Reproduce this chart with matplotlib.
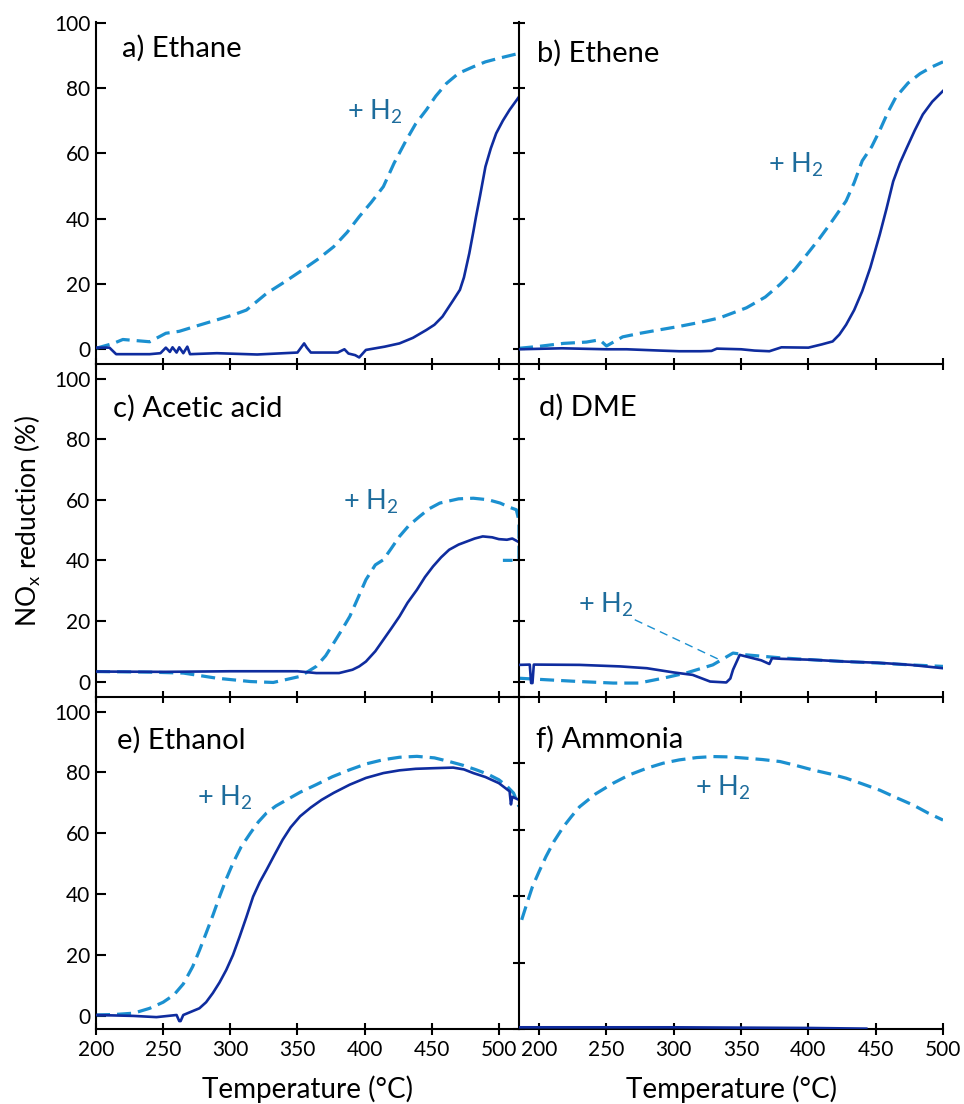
import numpy as np
import matplotlib
matplotlib.use("Agg")
import matplotlib.pyplot as plt

plt.rcParams['font.family'] = ['Lato', 'DejaVu Sans']
plt.rcParams['mathtext.default'] = 'regular'

SOLID = "#0f2c9e"
DASH = "#1b90d0"
H2COL = "#1d6c9c"

# a) Ethane
a_T_h2 = [200, 213, 220, 240, 252, 262, 277, 290, 302, 312, 327, 340, 352, 365, 377, 387, 396, 405, 414, 422, 431, 438, 446,
          453, 461, 470, 481, 490, 500, 515]
a_y_h2 = [0.3, 1.8, 3.0, 2.3, 4.9, 5.5, 7.4, 9.0, 10.5, 12.0, 17.1, 20.5, 23.8, 27.5, 31.4, 35.8, 40.6, 45.0, 49.8, 57.0, 64.0,
          69.0, 73.3, 77.5, 81.4, 84.5, 86.5, 88.0, 89.1, 90.6]
a_T = [200, 210, 215, 240, 248, 252, 255, 257, 260, 262, 265, 268, 270, 290, 320, 350, 355, 357, 360, 380, 385, 388, 393, 396, 401,
       415, 426, 436, 446, 452, 458, 462, 466, 471, 474, 478, 481, 483, 486, 490, 494, 498, 503, 508, 515]
a_y = [0.5, 0.5, -1.5, -1.5, -1.2, 0.5, -0.8, 0.6, -1.0, 0.6, -1.2, 0.8, -1.5, -1.2, -1.6, -1.0, 1.8, 0.5, -1.0, -1.0, 0.0, -1.3, -1.8, -2.5, -0.2,
       0.8, 1.8, 3.5, 5.9, 7.5, 10.0, 12.5, 15.0, 18.2, 22.0, 29.4, 36.0, 40.6, 47.0, 55.9, 61.5, 66.1, 70.0, 73.3, 77.3]

# b) Ethene
b_T_h2 = [185, 200, 218, 235, 245, 250, 262, 275, 290, 304, 320, 334, 354, 368, 379, 390, 399, 408, 416, 428, 434, 440, 447,
          453, 459, 465, 474, 483, 492, 500]
b_y_h2 = [0.3, 0.9, 1.8, 2.2, 2.9, 1.0, 3.8, 4.9, 6.0, 7.0, 8.3, 9.6, 12.7, 16.0, 19.9, 24.5, 29.1, 33.8, 38.3, 45.4, 51.0, 57.7, 62.0,
          67.0, 72.5, 77.2, 81.5, 84.4, 86.5, 88.0]
b_T = [185, 217, 250, 265, 290, 304, 320, 328, 332, 350, 360, 371, 380, 400, 410, 418, 423, 428, 434, 440, 446, 453, 458, 463,
       468, 473, 479, 485, 492, 500]
b_y = [0.0, 0.3, 0.0, 0.0, -0.4, -0.6, -0.6, -0.5, 0.2, 0.0, -0.4, -0.6, 0.6, 0.5, 1.5, 2.4, 4.5, 7.5, 12.0, 17.8, 25.0, 35.1, 43.0, 51.4,
       57.0, 61.6, 67.0, 71.9, 75.8, 79.1]

# c) Acetic acid
c_T_h2 = [200, 240, 265, 290, 315, 332, 352, 364, 371, 377, 383, 389, 395, 401, 408, 414, 420, 426, 433, 441, 448, 456, 470, 481,
          492, 501, 508, 513, 515, 515, 515, 503]
c_y_h2 = [3.3, 3.1, 2.8, 1.1, 0.0, -0.3, 1.7, 5.0, 8.5, 12.7, 17.0, 21.5, 27.5, 33.6, 38.5, 40.2, 44.0, 47.9, 51.5, 54.5, 57.0, 58.9,
          60.3, 60.5, 60.0, 58.9, 57.5, 56.7, 53.0, 46.0, 40.0, 40.0]
c_T = [200, 250, 300, 350, 364, 381, 391, 396, 401, 408, 414, 420, 426, 432, 439, 445, 451, 457, 463, 470, 476, 482, 488, 495, 500,
       506, 510, 515]
c_y = [3.3, 3.2, 3.4, 3.4, 2.8, 2.8, 3.9, 5.0, 6.6, 10.0, 13.8, 17.6, 21.5, 26.0, 30.3, 34.5, 38.0, 41.0, 43.5, 45.2, 46.2, 47.2,
       47.9, 47.6, 47.0, 46.8, 47.2, 46.0]

# d) DME
d_T_h2 = [185, 205, 230, 255, 274, 292, 309, 329, 344, 354, 380, 402, 427, 452, 476, 500]
d_y_h2 = [1.1, 0.6, 0.0, -0.5, -0.5, 1.1, 2.8, 5.5, 9.4, 8.8, 7.8, 7.2, 6.6, 6.1, 5.5, 5.0]
d_T = [185, 193, 194, 195, 196, 230, 260, 280, 300, 314, 327, 339, 342, 344, 349, 365, 371, 373, 380, 402, 427, 452, 476, 500]
d_y = [5.5, 5.6, -0.5, -0.5, 5.6, 5.5, 5.0, 4.4, 3.0, 2.2, 0.0, -0.3, 1.0, 3.9, 8.8, 7.0, 5.8, 7.7, 7.5, 7.2, 6.6, 6.2, 5.5, 4.4]
d_lead_T = [271, 334]
d_lead_y = [20.4, 7.2]

# e) Ethanol
e_T_h2 = [200, 215, 228, 240, 250, 258, 265, 272, 277, 282, 287, 292, 297, 302, 308, 315, 321, 327, 334, 342, 352, 364, 376, 389,
          401, 414, 426, 439, 452, 463, 473, 483, 492, 500, 506, 511, 515]
e_y_h2 = [0.3, 0.5, 0.9, 2.5, 4.5, 6.9, 10.5, 16.2, 21.5, 27.2, 33.0, 39.2, 45.0, 50.2, 55.5, 60.1, 63.8, 66.7, 69.0, 71.0, 73.5,
          76.0, 78.6, 80.9, 82.8, 84.2, 85.0, 85.3, 84.8, 83.6, 82.4, 80.9, 79.4, 77.6, 75.5, 73.2, 68.8]
e_T = [200, 228, 245, 260, 262, 263, 265, 277, 282, 287, 292, 297, 302, 307, 312, 317, 322, 327, 333, 339, 345, 352, 360, 368, 377,
       389, 401, 414, 426, 438, 451, 466, 474, 481, 490, 500, 508, 509, 510, 515]
e_y = [0.3, 0.0, -0.4, 0.3, -1.7, -1.7, 0.3, 2.5, 4.5, 7.5, 11.0, 15.1, 20.0, 26.1, 32.5, 39.2, 44.0, 48.0, 53.0, 57.9, 62.0, 65.6,
       68.5, 71.0, 73.3, 76.0, 78.2, 79.8, 80.7, 81.2, 81.4, 81.6, 81.0, 79.8, 78.5, 76.5, 73.8, 69.5, 72.0, 71.0]

# f) Ammonia
f_T_h2 = [187, 191, 195, 200, 205, 211, 218, 224, 230, 242, 255, 267, 280, 292, 304, 317, 329, 341, 354, 366, 379, 391, 403, 416,
          428, 440, 453, 465, 478, 489, 500]
f_y_h2 = [32.9, 38.0, 42.9, 47.5, 51.9, 56.5, 60.9, 64.0, 66.9, 70.8, 74.0, 76.5, 78.5, 80.0, 81.0, 81.7, 82.0, 81.9, 81.5, 81.1,
          80.5, 79.3, 78.0, 76.8, 75.5, 73.8, 71.9, 69.7, 67.4, 65.0, 62.9]
f_T = [185, 250, 300, 350, 400, 443]
f_y = [0.6, 0.6, 0.6, 0.5, 0.4, 0.2]

panels = [
    ("a) Ethane", a_T_h2, a_y_h2, a_T, a_y, (387, 72.7), (0.061, 0.923)),
    ("b) Ethene", b_T_h2, b_y_h2, b_T, b_y, (370, 56.6), (0.042, 0.909)),
    ("c) Acetic acid", c_T_h2, c_y_h2, c_T, c_y, (384, 59.4), (0.041, 0.868)),
    ("d) DME", d_T_h2, d_y_h2, d_T, d_y, (229, 25.3), (0.046, 0.872)),
    ("e) Ethanol", e_T_h2, e_y_h2, e_T, e_y, (275, 71.6), (0.050, 0.868)),
    ("f) Ammonia", f_T_h2, f_y_h2, f_T, f_y, (316, 72.5), (0.040, 0.872)),
]

W, H = 964, 1104
fig = plt.figure(figsize=(W / 100, H / 100), dpi=100)

cols = [(96, 519), (519, 943)]
rows = [(22, 364.3), (364.3, 696.7), (696.7, 1029.3)]
ylims = [[(-4.6, 100.2), (-4.6, 100.2)], [(-5.0, 104.7), (-5.0, 104.7)], [(-4.4, 104.9), (0, 100)]]
xlims = [(200, 515), (185, 500)]

for i, (label, Th, yh, Ts, ys, h2pos, lpos) in enumerate(panels):
    r, c = divmod(i, 2)
    x0, x1 = cols[c]
    ytop, ybot = rows[r]
    ax = fig.add_axes([x0 / W, 1 - ybot / H, (x1 - x0) / W, (ybot - ytop) / H])
    ax.patch.set_alpha(0)
    ax.plot(Ts, ys, color=SOLID, lw=1.9, zorder=3)
    ax.plot(Th, yh, color=DASH, lw=2.3, dashes=(4.4, 2.2), zorder=2)
    if label.startswith("d"):
        ax.plot(d_lead_T, d_lead_y, color=DASH, lw=1.0, dashes=(6, 4))
    ax.text(h2pos[0], h2pos[1], "+ H$_2$", color=H2COL, fontsize=19.5, va="center", ha="left")
    ax.text(lpos[0], lpos[1], label, transform=ax.transAxes, fontsize=21, va="center", ha="left")
    ax.set_xlim(*xlims[c])
    ax.set_ylim(*ylims[r][c])
    ax.set_xticks(range(200, 501, 50))
    ax.set_yticks(range(0, 101, 20))
    ax.spines["top"].set_visible(False)
    ax.spines["right"].set_visible(False)
    for s in ("left", "bottom"):
        ax.spines[s].set_linewidth(1.5)
    ax.tick_params(axis="x", direction="inout", length=8, width=1.5, labelsize=15, pad=4)
    if c == 0:
        ax.tick_params(axis="y", direction="in", length=7, width=1.5, labelsize=15, pad=4)
    else:
        ax.tick_params(axis="y", direction="inout", length=8, width=1.5, labelleft=False)
    if r < 2:
        ax.tick_params(axis="x", labelbottom=False)
    else:
        ax.set_xlabel("Temperature (°C)", fontsize=20, labelpad=11)

fig.text(28 / W, 1 - 521 / H, "NO$_x$ reduction (%)", rotation=90, fontsize=19, va="center", ha="center")

fig.savefig("out.png", dpi=100)
